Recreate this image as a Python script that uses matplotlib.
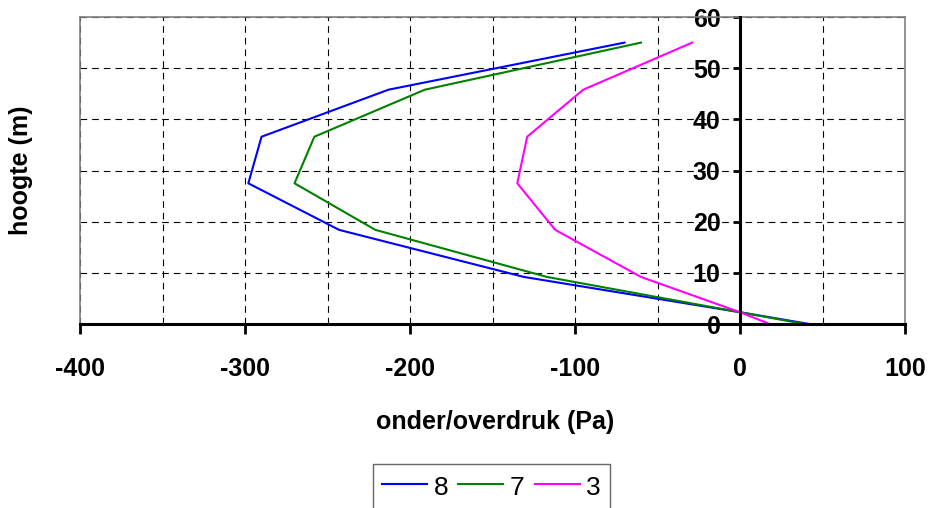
#!/usr/bin/env python3
"""Pressure profile over the building height for three cases."""

import matplotlib
matplotlib.use('Agg')
import matplotlib.pyplot as plt
from matplotlib.ticker import MultipleLocator

plt.rcParams['font.family'] = ['Liberation Sans', 'DejaVu Sans']
plt.rcParams['axes.unicode_minus'] = False

# Heights (m) and pressure (Pa) per case
heights = [55.0, 45.8, 36.6, 27.5, 18.4, 9.2, 2.3, 0.0]
druk_8 = [-70, -213, -290, -298, -243, -131, 0, 42]
druk_7 = [-60, -191, -258, -270, -221, -117, 0, 39]
druk_3 = [-29, -95, -129, -135, -112, -60, 0, 18]

series = [('8', druk_8, '#0000ff'),
          ('7', druk_7, '#008000'),
          ('3', druk_3, '#ff00ff')]

fig = plt.figure(figsize=(9.36, 5.08), dpi=100)
ax = fig.add_axes([0.0855, 0.3622, 0.8814, 0.6043])

for name, vals, col in series:
    ax.plot(vals, heights, color=col, lw=1.5, label=name, zorder=3)

ax.set_xlim(-400, 100)
ax.set_ylim(0, 60)
ax.xaxis.set_major_locator(MultipleLocator(100))
ax.xaxis.set_minor_locator(MultipleLocator(50))
ax.yaxis.set_major_locator(MultipleLocator(10))

# dashed grid, also on the 50 Pa steps
ax.grid(True, which='both', axis='x', color='black',
        lw=0.8, linestyle=(0, (6, 4.5)))
ax.grid(True, which='major', axis='y', color='black',
        lw=0.8, linestyle=(0, (6, 4.5)))

# y-axis crosses at 0 Pa, grey frame around the plot area
ax.spines['left'].set_position(('data', 0))
for side in ('left', 'bottom'):
    ax.spines[side].set_color('black')
    ax.spines[side].set_linewidth(2.2)
    ax.spines[side].set_zorder(4)
for side in ('top', 'right'):
    ax.spines[side].set_color('#808080')
    ax.spines[side].set_linewidth(1.2)
ax.plot([0, 0], [0, 1], transform=ax.transAxes, color='#808080',
        lw=1.2, clip_on=False, zorder=2)

ax.tick_params(axis='x', which='major', direction='out', length=7,
               width=2, pad=17, labelsize=18)
ax.tick_params(axis='x', which='minor', length=0)
ax.tick_params(axis='y', direction='out', length=5, width=2,
               pad=9, labelsize=18)
for lbl in ax.get_xticklabels() + ax.get_yticklabels():
    lbl.set_fontweight('bold')

ax.set_xlabel('onder/overdruk (Pa)', fontsize=18, fontweight='bold')
ax.set_ylabel('hoogte (m)', fontsize=18, fontweight='bold')
ax.xaxis.set_label_coords(0.503, -0.28)
ax.yaxis.set_label_coords(-0.057, 0.5)

leg = fig.legend(loc='upper center', bbox_to_anchor=(0.525, 0.0866),
                 ncol=3, fontsize=19, frameon=True, fancybox=False,
                 handlelength=1.7, handleheight=1.1, handletextpad=0.26,
                 columnspacing=0.38, borderpad=0.35, borderaxespad=0)
leg.get_frame().set_edgecolor('#404040')
leg.get_frame().set_linewidth(1.0)

fig.savefig('out.png', dpi=100)
